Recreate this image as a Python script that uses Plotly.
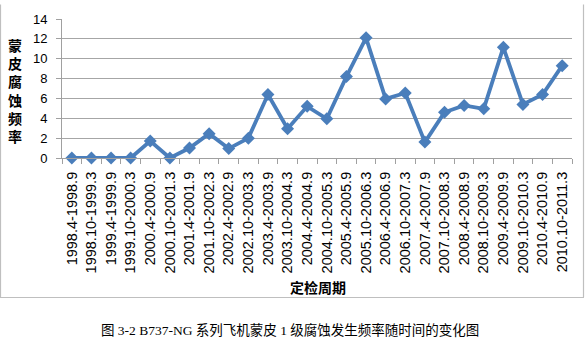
import plotly.graph_objects as go

categories = ["1998.4-1998.9", "1998.10-1999.3", "1999.4-1999.9", "1999.10-2000.3",
              "2000.4-2000.9", "2000.10-2001.3", "2001.4-2001.9", "2001.10-2002.3",
              "2002.4-2002.9", "2002.10-2003.3", "2003.4-2003.9", "2003.10-2004.3",
              "2004.4-2004.9", "2004.10-2005.3", "2005.4-2005.9", "2005.10-2006.3",
              "2006.4-2006.9", "2006.10-2007.3", "2007.4-2007.9", "2007.10-2008.3",
              "2008.4-2008.9", "2008.10-2009.3", "2009.4-2009.9", "2009.10-2010.3",
              "2010.4-2010.9", "2010.10-2011.3"]
values = [0, 0, 0, 0, 1.7, 0, 1.0, 2.45, 0.95, 2.0, 6.4, 2.95, 5.2, 3.95, 8.2, 12.1,
          5.95, 6.55, 1.6, 4.6, 5.3, 4.95, 11.15, 5.4, 6.4, 9.3]
y_ticks = [0, 2, 4, 6, 8, 10, 12, 14]

W, H = 588, 352
L, R, T, B = 62, 16, 15, 194
pw, ph = W - L - R, H - T - B

def px_x(x):
    return (x - L) / pw

def px_y(y):
    return (H - B - y) / ph

fig = go.Figure()
fig.add_trace(go.Scatter(
    x=categories, y=values, mode="lines+markers",
    line=dict(color="#4A7EBB", width=3.8),
    marker=dict(symbol="diamond", size=10, color="#4A7EBB"),
    cliponaxis=False,
))

fig.update_layout(
    width=W, height=H,
    margin=dict(l=L, r=R, t=T, b=B),
    paper_bgcolor="white", plot_bgcolor="white",
    showlegend=False,
    font=dict(family="Liberation Sans, Arial", color="black"),
    xaxis=dict(
        type="category", tickangle=-90, tickfont=dict(size=14.5),
        showgrid=False, showline=True, linecolor="#A0A0A0", linewidth=1,
        ticks="outside", ticklen=5, tickcolor="#A0A0A0", tickson="boundaries",
        ticklabelstandoff=7,
        range=[-0.5, len(categories) - 0.5],
    ),
    yaxis=dict(
        range=[0, 14], tickvals=y_ticks, tickfont=dict(size=13),
        showgrid=True, gridcolor="#A6A6A6", gridwidth=1,
        showline=True, linecolor="#A0A0A0", linewidth=1,
        ticks="outside", ticklen=5, tickcolor="#A0A0A0",
        ticklabelstandoff=6,
        zeroline=False,
    ),
)

# y axis title, stacked vertical
fig.add_annotation(
    xref="paper", yref="paper", x=px_x(15), y=px_y(89),
    xanchor="center", yanchor="middle",
    text="<b>蒙<br>皮<br>腐<br>蚀<br>频<br>率</b>", showarrow=False,
    font=dict(family="Noto Sans CJK SC", size=14), align="center",
)
# x axis title
fig.add_annotation(
    xref="paper", yref="paper", x=px_x(318), y=px_y(291),
    xanchor="center", yanchor="middle",
    text="<b>定检周期</b>", showarrow=False,
    font=dict(family="Noto Sans CJK SC", size=14),
)
# caption
fig.add_annotation(
    xref="paper", yref="paper", x=px_x(290), y=px_y(335),
    xanchor="center", yanchor="middle",
    text="图 3-2 B737-NG 系列飞机蒙皮 1 级腐蚀发生频率随时间的变化图", showarrow=False,
    font=dict(family="Liberation Serif, Noto Sans CJK SC", size=13.5),
)

# chart frame lines
for x0, y0, x1, y1 in [(0.5, 0, 0.5, 301), (583.5, 0, 583.5, 301), (0, 301.5, 584, 301.5)]:
    fig.add_shape(type="line", xref="paper", yref="paper",
                  x0=px_x(x0), y0=px_y(y0), x1=px_x(x1), y1=px_y(y1),
                  line=dict(color="#BFBFBF", width=1.2))

fig.write_html("out.html")
